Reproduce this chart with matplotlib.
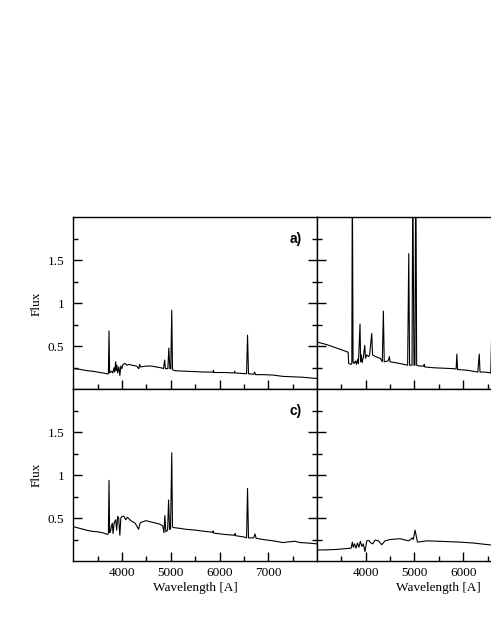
import matplotlib
matplotlib.use("Agg")
import matplotlib.pyplot as plt

# panel a (top left)
wl_a = [3000, 3100, 3200, 3300, 3400, 3500, 3600, 3700, 3720, 3733, 3745, 3760, 3790, 3810,
        3835, 3850, 3869, 3880, 3895, 3910, 3935, 3955, 3975, 3995, 4020, 4060, 4100, 4150,
        4200, 4300, 4330, 4345, 4362, 4380, 4500, 4600, 4700, 4800, 4850, 4875, 4890, 4940,
        4960, 4980, 5000, 5020, 5035, 5060, 5100, 5300, 5500, 5700, 5865, 5875, 5885, 6100,
        6300, 6310, 6320, 6555, 6575, 6595, 6700, 6720, 6740, 6900, 7100, 7300, 7500, 7700,
        7900, 8000]
flux_a = [0.24, 0.235, 0.225, 0.215, 0.21, 0.20, 0.19, 0.18, 0.18, 0.68, 0.19, 0.20, 0.21, 0.19,
          0.25, 0.20, 0.32, 0.22, 0.28, 0.19, 0.26, 0.16, 0.27, 0.24, 0.29, 0.30, 0.28, 0.29,
          0.28, 0.27, 0.25, 0.24, 0.29, 0.26, 0.27, 0.27, 0.26, 0.25, 0.24, 0.34, 0.24, 0.24,
          0.48, 0.24, 0.24, 0.92, 0.23, 0.22, 0.215, 0.21, 0.205, 0.20, 0.20, 0.22, 0.195, 0.195,
          0.19, 0.21, 0.19, 0.18, 0.63, 0.18, 0.175, 0.20, 0.17, 0.17, 0.165, 0.15, 0.145, 0.14,
          0.13, 0.125]

# panel b (top right)
wl_b = [3000, 3200, 3400, 3600, 3640, 3650, 3700, 3715, 3725, 3740, 3760, 3790, 3810, 3835,
        3850, 3883, 3895, 3910, 3925, 3950, 3980, 3995, 4020, 4060, 4080, 4123, 4140, 4200,
        4300, 4340, 4362, 4380, 4460, 4486, 4500, 4600, 4700, 4860, 4883, 4900, 4950, 4966,
        4990, 5010, 5027, 5045, 5100, 5190, 5200, 5210, 5400, 5600, 5800, 5855, 5870, 5885,
        6100, 6300, 6329, 6345, 6450, 6565, 6600, 6630, 6800, 7200, 7600, 8000]
flux_b = [0.55, 0.52, 0.48, 0.44, 0.43, 0.30, 0.29, 0.30, 2.6, 0.32, 0.30, 0.33, 0.29, 0.35,
          0.30, 0.76, 0.32, 0.40, 0.31, 0.37, 0.51, 0.36, 0.40, 0.38, 0.40, 0.65, 0.40, 0.38,
          0.36, 0.32, 0.91, 0.32, 0.33, 0.38, 0.32, 0.31, 0.30, 0.28, 1.58, 0.28, 0.28, 2.5,
          0.28, 0.28, 2.8, 0.28, 0.27, 0.27, 0.29, 0.26, 0.25, 0.245, 0.24, 0.235, 0.41, 0.23,
          0.22, 0.20, 0.41, 0.20, 0.20, 0.19, 1.0, 0.19, 0.18, 0.17, 0.16, 0.15]

# panel c (bottom left)
wl_c = [3000, 3100, 3200, 3300, 3400, 3500, 3600, 3700, 3720, 3733, 3745, 3760, 3780, 3800,
        3815, 3840, 3870, 3890, 3910, 3930, 3955, 3975, 4000, 4040, 4075, 4110, 4180, 4270,
        4310, 4340, 4370, 4390, 4490, 4560, 4700, 4770, 4835, 4860, 4878, 4900, 4935, 4955,
        4975, 4995, 5020, 5035, 5050, 5190, 5300, 5500, 5700, 5860, 5870, 5880, 6100, 6310,
        6320, 6330, 6500, 6555, 6575, 6595, 6700, 6730, 6750, 6900, 7100, 7300, 7450, 7550,
        7650, 7800, 8000]
flux_c = [0.40, 0.385, 0.37, 0.355, 0.345, 0.34, 0.33, 0.31, 0.32, 0.94, 0.33, 0.34, 0.40, 0.44,
          0.32, 0.45, 0.48, 0.36, 0.52, 0.50, 0.30, 0.50, 0.52, 0.52, 0.48, 0.51, 0.47, 0.44,
          0.40, 0.37, 0.44, 0.45, 0.47, 0.46, 0.44, 0.43, 0.41, 0.33, 0.53, 0.34, 0.36, 0.71,
          0.37, 0.37, 1.26, 0.40, 0.39, 0.38, 0.37, 0.36, 0.345, 0.335, 0.35, 0.325, 0.31, 0.30,
          0.32, 0.295, 0.28, 0.27, 0.845, 0.27, 0.27, 0.315, 0.265, 0.25, 0.235, 0.215, 0.225,
          0.23, 0.215, 0.21, 0.20]

# panel d (bottom right)
wl_d = [3000, 3200, 3400, 3600, 3700, 3726, 3745, 3770, 3800, 3830, 3860, 3890, 3920, 3950,
        3986, 4021, 4060, 4110, 4144, 4192, 4260, 4329, 4397, 4500, 4706, 4877, 4920, 4950,
        4975, 5012, 5062, 5254, 5500, 5939, 6200, 6562, 7000, 7500, 8000]
flux_d = [0.128, 0.13, 0.135, 0.145, 0.15, 0.22, 0.16, 0.20, 0.15, 0.21, 0.16, 0.23, 0.17, 0.20,
          0.11, 0.235, 0.24, 0.21, 0.20, 0.245, 0.235, 0.19, 0.235, 0.25, 0.26, 0.235, 0.25, 0.27,
          0.25, 0.36, 0.22, 0.235, 0.23, 0.22, 0.21, 0.187, 0.18, 0.17, 0.16]

plt.rcParams['font.family'] = ['Liberation Serif', 'DejaVu Serif']

fig = plt.figure(figsize=(4.91, 6.35), dpi=100)

# the right column runs past the edge of the picture, as in the original
col_x = [0.1493, 0.6456]
row_y = [0.387, 0.1165]
w = 0.4963
h = 0.2705

spectra = [[(wl_a, flux_a), (wl_b, flux_b)],
           [(wl_c, flux_c), (wl_d, flux_d)]]
tags = [["a)", None], ["c)", None]]

for r in range(2):
    for c in range(2):
        ax = fig.add_axes([col_x[c], row_y[r], w, h])
        wl, fl = spectra[r][c]
        ax.plot(wl, fl, color='black', lw=0.8)
        ax.set_xlim(3000, 8000)
        ax.set_ylim(0, 2)
        ax.set_xticks([4000, 5000, 6000, 7000])
        if c == 1:
            # 7000 falls outside the picture anyway
            ax.set_xticklabels(["4000", "5000", "6000", ""])
        ax.set_xticks([3500, 4500, 5500, 6500, 7500], minor=True)
        ax.set_yticks([0.5, 1, 1.5])
        ax.set_yticklabels(["0.5", "1", "1.5"])
        ax.set_yticks([0.25, 0.75, 1.25, 1.75], minor=True)
        ax.tick_params(which='both', direction='in', top=False, right=True,
                       labelsize=9.5, width=1.0)
        ax.tick_params(axis='y', which='major', length=6.7, pad=6.5)
        ax.tick_params(axis='y', which='minor', length=3.7)
        ax.tick_params(axis='x', which='major', length=6.7, pad=4.5)
        ax.tick_params(axis='x', which='minor', length=3.8)
        for s in ax.spines.values():
            s.set_linewidth(1.0)
        if r == 0:
            ax.tick_params(labelbottom=False)
        else:
            ax.set_xlabel("Wavelength [A]", fontsize=9.5, labelpad=2)
        if c == 1:
            ax.tick_params(labelleft=False)
        else:
            ax.set_ylabel("Flux", fontsize=9.5)
            ax.yaxis.set_label_coords(-0.124, 0.5)
        if tags[r][c]:
            ax.text(0.938, 0.875, tags[r][c], transform=ax.transAxes, ha='right',
                    va='center', fontsize=10, fontweight='bold', family='Liberation Sans')

fig.savefig("out.png", dpi=100)
